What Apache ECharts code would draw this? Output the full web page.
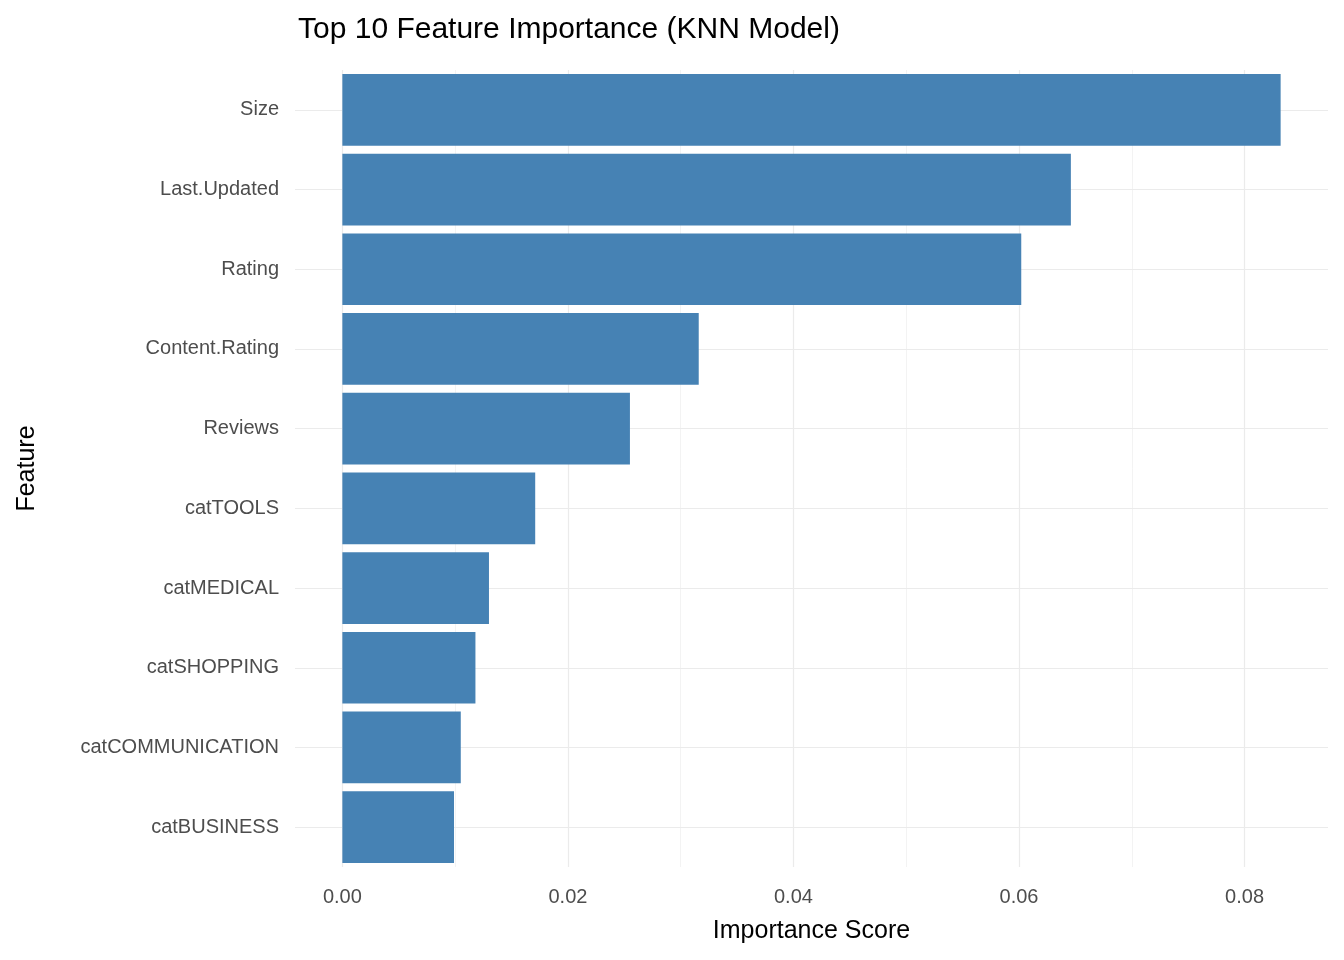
<!DOCTYPE html>
<html><head><meta charset="utf-8">
<script src="https://cdn.jsdelivr.net/npm/echarts@6/dist/echarts.min.js"></script>
<style>html,body{margin:0;background:#fff}#c{width:1344px;height:960px}</style>
</head><body><div id="c"></div>
<script>
const features = ['Size', 'Last.Updated', 'Rating', 'Content.Rating', 'Reviews',
  'catTOOLS', 'catMEDICAL', 'catSHOPPING', 'catCOMMUNICATION', 'catBUSINESS']
const importance = [0.0832, 0.0646, 0.0602, 0.0316, 0.0255, 0.0171, 0.0130, 0.0118, 0.0105, 0.0099]
const majorTicks = [0, 0.02, 0.04, 0.06, 0.08]
const minorTicks = [0.01, 0.03, 0.05, 0.07]

const chart = echarts.init(document.getElementById('c'))
const lineStyle = (w) => ({ color: '#ebebeb', width: w, type: 'solid' })
const font = 'Arial, Liberation Sans'

chart.setOption({
  animation: false,
  title: {
    text: 'Top 10 Feature Importance (KNN Model)',
    left: 293, top: 10,
    textStyle: { fontFamily: font, fontSize: 30, fontWeight: 'normal', color: '#000' }
  },
  grid: { left: 295, right: 16, top: 70, bottom: 93 },
  xAxis: {
    type: 'value', min: -0.0042, max: 0.0874,
    name: 'Importance Score', nameLocation: 'middle', nameGap: 52,
    nameTextStyle: { fontFamily: font, fontSize: 25, color: '#000' },
    axisLine: { show: false }, axisTick: { show: false, customValues: majorTicks }, splitLine: { show: false },
    axisLabel: {
      customValues: majorTicks, margin: 20,
      formatter: (v) => v.toFixed(2),
      fontFamily: font, fontSize: 20, color: '#4d4d4d'
    }
  },
  yAxis: {
    type: 'category', data: features, inverse: true,
    name: 'Feature', nameLocation: 'middle', nameGap: 255, nameRotate: 90,
    nameTextStyle: { fontFamily: font, fontSize: 25, color: '#000' },
    axisLine: { show: false }, axisTick: { show: false }, splitLine: { show: false },
    axisLabel: { margin: 16, fontFamily: font, fontSize: 20, color: '#4d4d4d' }
  },
  series: [{
    type: 'bar', data: importance, barCategoryGap: '10%',
    itemStyle: { color: '#4682B4' },
    markLine: {
      silent: true, symbol: 'none', label: { show: false }, z: 0,
      data: [
        ...minorTicks.map(v => ({ xAxis: v, lineStyle: lineStyle(0.6) })),
        ...majorTicks.map(v => ({ xAxis: v, lineStyle: lineStyle(1.2) })),
        ...features.map(f => ({ yAxis: f, lineStyle: lineStyle(1.2) }))
      ]
    }
  }]
})
</script></body></html>
